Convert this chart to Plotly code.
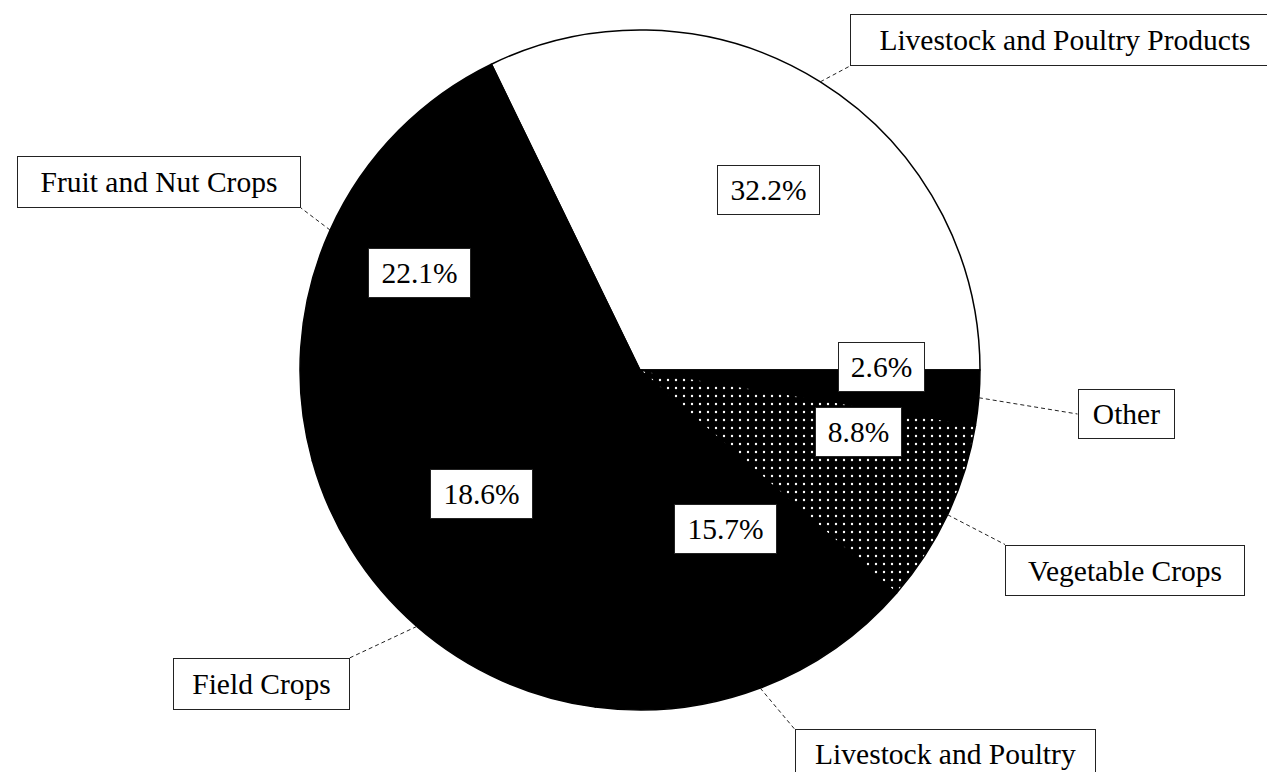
import math
import plotly.graph_objects as go

# ---------------- data ----------------
categories = ["Livestock and Poultry Products", "Fruit and Nut Crops", "Field Crops",
              "Livestock and Poultry", "Vegetable Crops", "Other"]
values = [32.2, 22.1, 18.6, 15.7, 8.8, 2.6]

# ---------------- style ----------------
slice_colors = ["white", "black", "black", "black", "black", "black"]
slice_patterns = ["", "", "", "", ".", ""]
FONT = "Liberation Serif"
FS = 29.5

W, H = 1275, 772
CX, CY, R = 632, 362, 340          # pie geometry in pixels
LAB_CX, LAB_CY, LAB_RX, LAB_RY = 632, 343, 242, 190   # percent-box placement ellipse

# category label boxes: centre x, centre y, width, height, leader anchor (sx, sy)
cat_boxes = {
    "Livestock and Poultry Products": (1057, 32, 430, 52, (-1, 1)),
    "Fruit and Nut Crops": (151, 174, 284, 52, (1, 1)),
    "Field Crops": (253, 676, 177, 52, (1, -1)),
    "Livestock and Poultry": (937, 746, 301, 50, (-1, -1)),
    "Vegetable Crops": (1117, 562, 240, 51, (-1, -1)),
    "Other": (1118, 406, 97, 50, (-1, 0)),
}


def px(x):
    return x / W


def py(y):
    return 1 - y / H


total = sum(values)
# first slice starts at 3 o'clock and runs counterclockwise
rotation = 90 - 360 * values[0] / total

fig = go.Figure(go.Pie(
    labels=categories,
    values=values,
    sort=False,
    direction="counterclockwise",
    rotation=rotation,
    textinfo="none",
    hoverinfo="label+percent",
    showlegend=False,
    marker=dict(
        colors=slice_colors,
        line=dict(color="black", width=1.5),
        pattern=dict(shape=slice_patterns, fgcolor="white", bgcolor="black",
                     size=8, solidity=0.07),
    ),
    domain=dict(x=[px(CX - R), px(CX + R)], y=[py(CY + R), py(CY - R)]),
))

annotations = []
shapes = []
cum = 0.0
for cat, v in zip(categories, values):
    mid = (cum + v / 2) / total * 2 * math.pi
    cum += v
    c, s = math.cos(mid), math.sin(mid)

    # percentage box inside the slice
    txt = f"{v:.1f}%"
    lx, ly = LAB_CX + LAB_RX * c, LAB_CY - LAB_RY * s
    bw = 16 * len(txt) + 23
    annotations.append(dict(
        x=px(lx), y=py(ly), xref="paper", yref="paper", text=txt, showarrow=False,
        xanchor="center", yanchor="middle", bgcolor="white", bordercolor="#222",
        borderwidth=1, borderpad=0, width=bw - 2, height=48,
        font=dict(family=FONT, size=FS, color="black"),
    ))

    # category box and leader line
    bx, by, w, h, (sx, sy) = cat_boxes[cat]
    annotations.append(dict(
        x=px(bx), y=py(by), xref="paper", yref="paper", text=cat, showarrow=False,
        xanchor="center", yanchor="middle", bgcolor="white", bordercolor="#222",
        borderwidth=1, borderpad=0, width=w - 2, height=h - 2,
        font=dict(family=FONT, size=FS, color="black"),
    ))
    ex, ey = CX + R * c, CY - R * s
    tx, ty = bx + sx * w / 2, by + sy * h / 2
    shapes.append(dict(type="line", xref="paper", yref="paper",
                       x0=px(ex), y0=py(ey), x1=px(tx), y1=py(ty),
                       line=dict(color="#222", width=1, dash="4px,3px")))

fig.update_layout(
    width=W, height=H,
    margin=dict(l=0, r=0, t=0, b=0),
    paper_bgcolor="white", plot_bgcolor="white",
    annotations=annotations, shapes=shapes,
    font=dict(family=FONT, size=FS, color="black"),
)

fig.write_html("out.html")
